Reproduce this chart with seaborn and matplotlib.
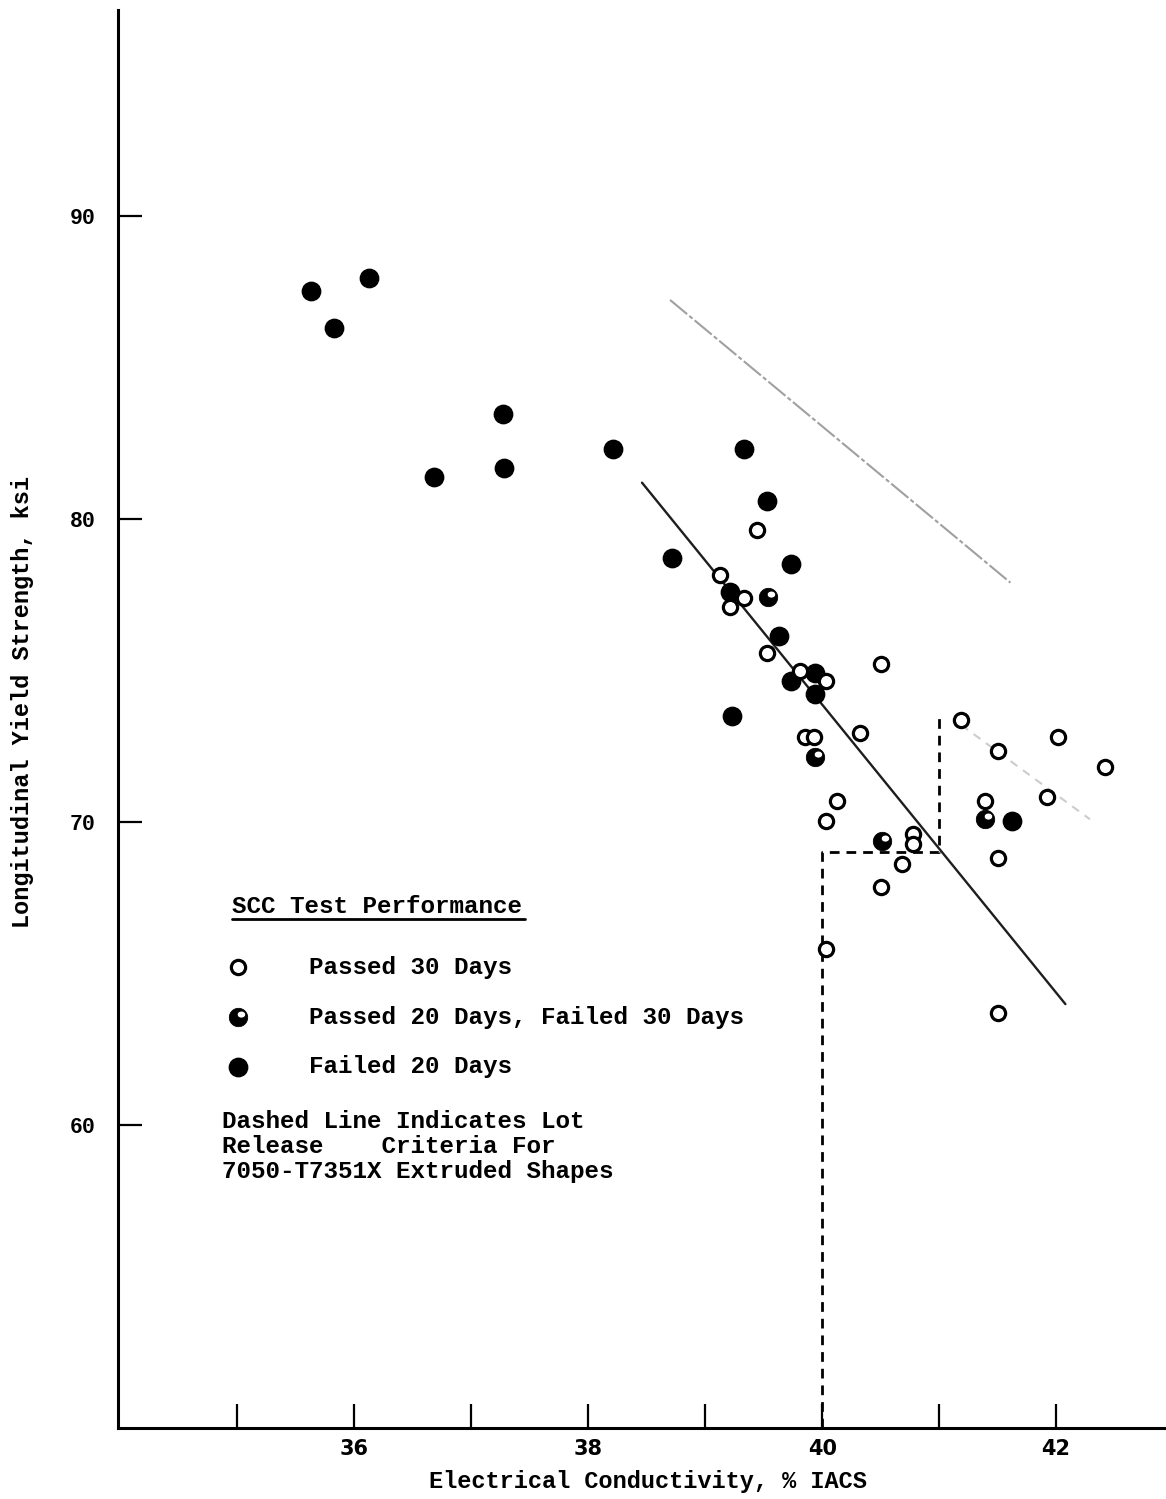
import numpy as np
import pandas as pd
import seaborn as sns
import matplotlib.pyplot as plt
from matplotlib.path import Path
from matplotlib.lines import Line2D

# --- SCC test results: conductivity (% IACS) vs. longitudinal yield strength (ksi)
passed30_x = [39.44, 39.13, 39.33, 39.21, 39.53, 40.50, 39.81, 40.03, 41.19, 40.32,
              42.02, 41.50, 42.42, 39.85, 39.93, 40.13, 41.92, 41.39, 40.03, 40.78,
              40.78, 40.68, 41.50, 40.50, 40.03, 41.50]
passed30_y = [79.65, 78.16, 77.41, 77.11, 75.59, 75.20, 74.97, 74.64, 73.38, 72.95,
              72.79, 72.36, 71.80, 72.79, 72.79, 70.71, 70.81, 70.68, 70.02, 69.59,
              69.26, 68.60, 68.80, 67.84, 65.80, 63.69]

passed20_x = [39.54, 39.94, 40.51, 41.39]
passed20_y = [77.44, 72.16, 69.36, 70.09]

failed20_x = [35.63, 35.83, 36.13, 36.68, 37.27, 37.28, 38.21, 38.72, 39.33, 39.53,
              39.73, 39.21, 39.63, 39.73, 39.94, 39.94, 39.23, 41.62]
failed20_y = [87.53, 86.31, 87.96, 81.39, 83.47, 81.69, 82.32, 78.72, 82.32, 80.60,
              78.53, 77.60, 76.15, 74.64, 74.93, 74.21, 73.51, 70.02]

categories = ["Passed 30 Days", "Passed 20 Days, Failed 30 Days", "Failed 20 Days"]
legend_title = "SCC Test Performance"

# trend lines
trend_x = [38.46, 42.08]
trend_y = [81.20, 63.99]
upper_x = [38.70, 41.61]
upper_y = [87.23, 77.90]
right_x = [41.19, 42.29]
right_y = [73.20, 70.09]

# lot release criteria (dashed)
release_x = [40.0, 40.0, 41.0, 41.0]
release_y = [50.0, 69.0, 69.0, 73.6]

x_ticks = [35, 36, 37, 38, 39, 40, 41, 42]
x_tick_labels = ["", "36", "", "38", "", "40", "", "42"]
y_ticks = [60, 70, 80, 90]
y_tick_labels = ["60", "70", "80", "90"]

note_lines = ["Dashed Line Indicates Lot",
              "Release    Criteria For",
              "7050-T7351X Extruded Shapes"]

df = pd.concat([
    pd.DataFrame({"ec": passed30_x, "tys": passed30_y, "perf": categories[0]}),
    pd.DataFrame({"ec": passed20_x, "tys": passed20_y, "perf": categories[1]}),
    pd.DataFrame({"ec": failed20_x, "tys": failed20_y, "perf": categories[2]}),
], ignore_index=True)

sns.set_theme(style="white")
plt.rcParams["font.family"] = ["Liberation Mono", "DejaVu Sans Mono"]
plt.rcParams["font.weight"] = "bold"
plt.rcParams["lines.scale_dashes"] = False
for key in ["text.color", "axes.labelcolor", "xtick.color", "ytick.color"]:
    plt.rcParams[key] = "black"

# filled circle with a white notch at upper right
t = np.linspace(0, 2 * np.pi, 60)
outer = np.column_stack([np.cos(t), np.sin(t)])
inner = np.column_stack([0.32 + 0.46 * np.cos(-t), 0.32 + 0.38 * np.sin(-t)])
verts = np.vstack([outer, outer[:1], inner, inner[:1]])
codes = ([Path.MOVETO] + [Path.LINETO] * (len(outer) - 1) + [Path.CLOSEPOLY]
         + [Path.MOVETO] + [Path.LINETO] * (len(inner) - 1) + [Path.CLOSEPOLY])
notched = Path(verts, codes)

fig = plt.figure(figsize=(11.66, 14.99), dpi=100)
ax = fig.add_axes([118 / 1166, 1 - 1428 / 1499, (1166 - 118) / 1166, 1418 / 1499])

# lines
ax.plot(trend_x, trend_y, color="#1e1e1e", lw=1.7, zorder=1)
ax.plot(upper_x, upper_y, color="#a0a0a0", lw=1.5, dashes=(16, 2, 3, 2), zorder=1)
ax.plot(right_x, right_y, color="#cccccc", lw=1.5, dashes=(6, 5), zorder=1)
ax.plot(release_x, release_y, color="black", lw=2.0, dashes=(7, 5), zorder=1)

# points
sub = df[df.perf == categories[2]]
sns.scatterplot(data=sub, x="ec", y="tys", ax=ax, marker="o", s=175,
                color="black", edgecolor="black", linewidth=1, label=categories[2], zorder=3)
sub = df[df.perf == categories[1]]
sns.scatterplot(data=sub, x="ec", y="tys", ax=ax, marker=notched, s=175,
                color="black", edgecolor="black", linewidth=0.6, label=categories[1], zorder=4)
sub = df[df.perf == categories[0]]
sns.scatterplot(data=sub, x="ec", y="tys", ax=ax, marker="o", s=105,
                facecolor="white", edgecolor="black", linewidth=2.3, label=categories[0], zorder=5)

ax.set_xlim(33.98, 42.94)
ax.set_ylim(50.0, 96.8)

ax.set_xticks(x_ticks)
ax.set_xticklabels(x_tick_labels, fontsize=15, fontweight="bold",
                   family=["Liberation Sans Narrow", "DejaVu Sans"])
ax.set_yticks(y_ticks)
ax.set_yticklabels(y_tick_labels, fontsize=15.5, fontweight="bold")
ax.tick_params(axis="x", bottom=True, direction="in", length=17, width=1.6, pad=8)
ax.tick_params(axis="y", left=True, direction="in", length=17, width=1.6, pad=16)

for side in ["top", "right"]:
    ax.spines[side].set_visible(False)
for side in ["left", "bottom"]:
    ax.spines[side].set_color("black")
    ax.spines[side].set_linewidth(2.2)

ax.set_xlabel("Electrical Conductivity, % IACS", fontsize=17, fontweight="bold", va="center")
ax.xaxis.set_label_coords(0.506, -0.0374)
ax.set_ylabel("Longitudinal Yield Strength, ksi", fontsize=17, fontweight="bold", va="center")
ax.yaxis.set_label_coords(-0.0916, 0.512)

handles, labels = ax.get_legend_handles_labels()
order = [labels.index(c) for c in categories]
leg = ax.legend([handles[i] for i in order], [labels[i] for i in order],
                loc="upper left", bbox_to_anchor=(0.103, 0.333),
                frameon=False, borderaxespad=0, borderpad=0,
                handlelength=1.0, handletextpad=2.4, labelspacing=1.1,
                prop={"size": 17.5, "weight": "bold"})

title = ax.text(0.1088, 0.368, legend_title, transform=ax.transAxes,
                ha="left", va="center", fontsize=17.5, fontweight="bold")

ax.text(0.099, 0.2243, "\n".join(note_lines), transform=ax.transAxes,
        ha="left", va="top", fontsize=17.5, fontweight="bold", linespacing=1.1)

# underline the legend title
fig.canvas.draw()
renderer = fig.canvas.get_renderer()
bb = title.get_window_extent(renderer)
inv = fig.transFigure.inverted()
(x0, y0), (x1, _) = inv.transform([(bb.x0, bb.y0 - 1), (bb.x1 + 3, bb.y0 - 1)])
fig.add_artist(Line2D([x0, x1], [y0, y0], transform=fig.transFigure, color="black", lw=2.0))

fig.savefig("out.png", dpi=100, facecolor="white")
